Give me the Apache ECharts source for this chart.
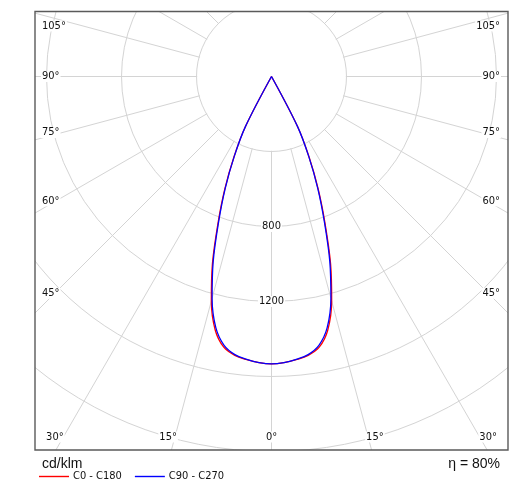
<html>
<head>
    <meta charset="utf-8">
    <title>光强分布曲线</title>
    <script src="https://cdn.jsdelivr.net/npm/echarts@6/dist/echarts.min.js"></script>
    <style>
        html, body { margin: 0; padding: 0; background: #fff; }
        #chart { width: 521px; height: 503px; }
    </style>
</head>
<body>
<div id="chart"></div>
<script>
    // gamma angles (deg) and intensities (cd/klm)
    var gammaAngles = [0, 2.5, 5, 7.5, 10, 12.5, 15, 17.5, 20, 22.5, 25, 27.5, 30];
    var c0c180 = [1533, 1528, 1516, 1500, 1466, 1386, 1240, 1048, 836, 652, 474, 302, 0];
    var c90c270 = [1533, 1527, 1514, 1496, 1456, 1372, 1224, 1034, 824, 644, 470, 300, 0];
    var seriesNames = ['C0 - C180', 'C90 - C270'];
    var radiusLabels = [800, 1200];
    var angleLabels = [0, 15, 30, 45, 60, 75, 90, 105];

    // polar centre and frame (px)
    var cx = 271.5, cy = 76.5;
    var frame = { x1: 35, y1: 11.5, x2: 508, y2: 450 };
    var rMax = 2400, pxMax = 450;
    var font = '"DejaVu Sans Condensed", "DejaVu Sans", sans-serif';

    // one half is mirrored onto the left side (360 - gamma)
    function plane(values) {
        var pts = [];
        for (var i = values.length - 1; i >= 0; i--) {
            pts.push([values[i], 360 - gammaAngles[i]]);
        }
        for (var j = 1; j < values.length; j++) {
            pts.push([values[j], gammaAngles[j]]);
        }
        return pts;
    }

    // angle labels sit just beside the spoke, inside the frame
    function angleLabel(g, side) {
        var a = g === 0 || g === 90 ? g : g + 1;
        var rad = a * Math.PI / 180;
        var x, y, align = 'center';
        var lx = 47, by = 437;
        if (g < 40) {
            x = cx + side * (by - cy) * Math.tan(rad);
            y = by;
            if (x < 52) x = 52;
            if (x > 490) x = 490;
        } else {
            x = side < 0 ? 41 : 501;
            align = side < 0 ? 'left' : 'right';
            y = cy + (cx - lx) / Math.tan(rad);
            if (y < 26) y = 26;
        }
        return {
            type: 'text', z: 12, x: x, y: y,
            style: {
                text: g + '°', font: '11px ' + font, fill: '#111',
                align: align, verticalAlign: 'middle',
                backgroundColor: '#fff', padding: [0, 1]
            }
        };
    }

    var elements = [
        // empty disc inside the 400 circle
        { type: 'circle', z: 1, shape: { cx: cx, cy: cy, r: 74.3 }, style: { fill: '#fff' } },
        // white masks outside the frame
        { type: 'rect', z: 10, shape: { x: 0, y: 0, width: 521, height: frame.y1 }, style: { fill: '#fff' } },
        { type: 'rect', z: 10, shape: { x: 0, y: 0, width: frame.x1, height: 503 }, style: { fill: '#fff' } },
        { type: 'rect', z: 10, shape: { x: frame.x2, y: 0, width: 521 - frame.x2, height: 503 }, style: { fill: '#fff' } },
        { type: 'rect', z: 10, shape: { x: 0, y: frame.y2, width: 521, height: 503 - frame.y2 }, style: { fill: '#fff' } },
        { type: 'rect', z: 11, shape: { x: frame.x1, y: frame.y1, width: frame.x2 - frame.x1, height: frame.y2 - frame.y1 },
          style: { fill: 'none', stroke: '#5a5a5a', lineWidth: 1.4 } },
        { type: 'text', z: 12, x: 42, y: 464,
          style: { text: 'cd/klm', font: '14px "Liberation Sans", Arial, sans-serif', fill: '#111', verticalAlign: 'middle' } },
        { type: 'text', z: 12, x: 500, y: 464,
          style: { text: 'η = 80%', font: '14px "Liberation Sans", Arial, sans-serif', fill: '#111', align: 'right', verticalAlign: 'middle' } }
    ];
    for (var k = 0; k < angleLabels.length; k++) {
        var g = angleLabels[k];
        elements.push(angleLabel(g, -1));
        if (g !== 0) elements.push(angleLabel(g, 1));
    }

    var option = {
        animation: false,
        backgroundColor: '#fff',
        polar: {
            center: [cx, cy],
            radius: [0, pxMax]
        },
        angleAxis: {
            type: 'value',
            min: 0,
            max: 360,
            interval: 15,
            startAngle: 270,
            clockwise: false,
            z: 0,
            axisLine: { show: false },
            axisTick: { show: false },
            axisLabel: { show: false },
            splitLine: { lineStyle: { color: '#d4d4d4', width: 1 } }
        },
        radiusAxis: {
            type: 'value',
            min: 0,
            max: rMax,
            interval: 400,
            z: 2,
            axisLine: { show: false },
            axisTick: { show: false },
            axisLabel: {
                margin: 0,
                align: 'center',
                verticalAlign: 'middle',
                backgroundColor: '#fff',
                padding: [0, 1],
                color: '#111',
                fontSize: 11,
                fontFamily: font,
                formatter: function (v) {
                    return radiusLabels.indexOf(v) >= 0 ? String(v) : '';
                }
            },
            splitLine: { lineStyle: { color: '#d4d4d4', width: 1 } }
        },
        legend: {
            z: 20,
            left: 39,
            top: 471,
            icon: 'rect',
            itemWidth: 30,
            itemHeight: 1.4,
            itemGap: 13,
            padding: 0,
            textStyle: { fontSize: 11, fontFamily: font, color: '#111', padding: [0, 0, 0, -1] },
            data: seriesNames
        },
        series: [{
            name: seriesNames[0],
            type: 'line',
            coordinateSystem: 'polar',
            clip: false,
            symbol: 'none',
            smooth: 0.35,
            z: 3,
            lineStyle: { color: '#ff0000', width: 1.3 },
            itemStyle: { color: '#ff0000' },
            data: plane(c0c180)
        }, {
            name: seriesNames[1],
            type: 'line',
            coordinateSystem: 'polar',
            clip: false,
            symbol: 'none',
            smooth: 0.35,
            z: 4,
            lineStyle: { color: '#0000ff', width: 1.3 },
            itemStyle: { color: '#0000ff' },
            data: plane(c90c270)
        }],
        graphic: { elements: elements }
    };

    var chart = echarts.init(document.getElementById('chart'));
    chart.setOption(option);
</script>
</body>
</html>
